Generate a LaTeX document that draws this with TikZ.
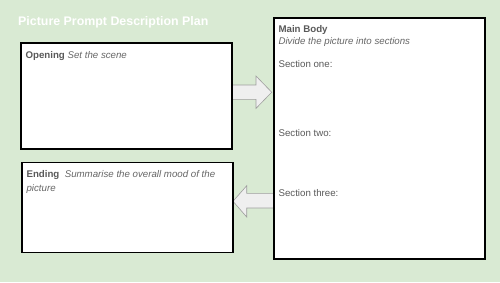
\documentclass[tikz,border=0pt]{standalone}
\usepackage{fontspec}
\setmainfont{Liberation Sans}
\usetikzlibrary{calc}
\definecolor{bg}{HTML}{D9EAD3}
\definecolor{txt}{HTML}{595959}
\definecolor{itx}{HTML}{666666}
\definecolor{arrfill}{HTML}{EFEFEF}
\definecolor{arrline}{HTML}{9E9E9E}
\tikzset{
  x=1pt,y=1pt,
  panel/.style={draw=black,fill=white,line width=1.3pt,inner sep=0pt},
  label/.style={anchor=base west,inner sep=0pt,text=txt,font=\fontsize{9.7}{13.7}\selectfont},
  blockarrow/.style={draw=arrline,fill=arrfill,line width=0.6pt,line join=miter},
}
\begin{document}
\begin{tikzpicture}
\fill[bg] (0,0) rectangle (500,-282);
\useasboundingbox (0,0) rectangle (500,-282);
\node[anchor=base west,inner sep=0pt,text=white,font=\bfseries\fontsize{12.4}{15}\selectfont] (title) at (18,-25) {Picture Prompt Description Plan};
% arrows (behind the boxes)
\draw[blockarrow] (229,-85) -- (256,-85) -- (256,-76) -- (271.7,-92.2) -- (256,-108.4) -- (256,-99.3) -- (229,-99.3) -- cycle;
\draw[blockarrow] (274,-193.3) -- (246.7,-193.3) -- (246.7,-185.7) -- (233,-201.3) -- (246.7,-217) -- (246.7,-208) -- (274,-208) -- cycle;
% boxes
\node[panel,minimum width=211pt,minimum height=106pt] (open) at (126.5,-96) {};
\node[panel,minimum width=211pt,minimum height=90pt] (end) at (127.5,-207.5) {};
\node[panel,minimum width=211pt,minimum height=241pt] (main) at (379.5,-138.5) {};
% texts
\node[label] (t1) at ($(open.north west)+(5,-16.5)$) {\textbf{Opening} \textit{\color{itx}Set the scene}};
\node[label] (t2) at ($(end.north west)+(5,-15.5)$) {\textbf{Ending}\ \ \textit{\color{itx}Summarise the overall mood of the}};
\node[label] (t3) at ($(end.north west)+(5,-29.2)$) {\textit{\color{itx}picture}};
\node[label] (m1) at ($(main.north west)+(5,-15.5)$) {\textbf{Main Body}};
\node[label] (m2) at ($(main.north west)+(5,-27.5)$) {\textit{\color{itx}Divide the picture into sections}};
\node[label] (s1) at ($(main.north west)+(5,-50)$) {Section one:};
\node[label] (s2) at ($(main.north west)+(5,-119.5)$) {Section two:};
\node[label] (s3) at ($(main.north west)+(5,-179.5)$) {Section three:};
\end{tikzpicture}
\end{document}
